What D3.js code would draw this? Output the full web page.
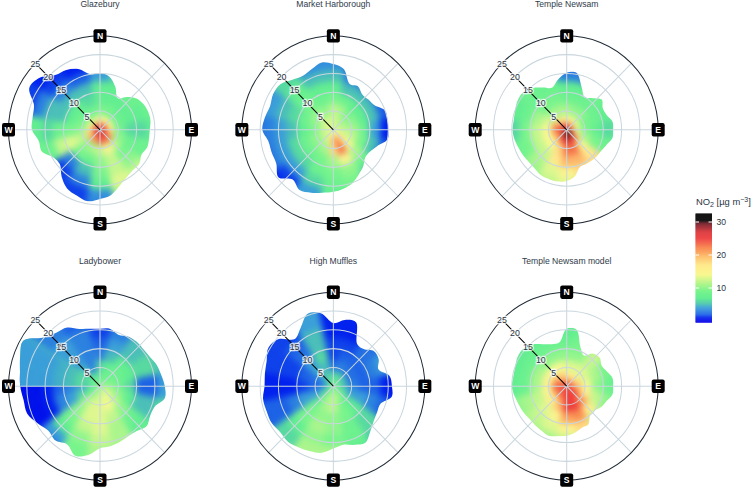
<!DOCTYPE html>
<html><head><meta charset="utf-8">
<script src="https://cdn.jsdelivr.net/npm/d3@7"></script>
<style>html,body{margin:0;background:#fff}svg{display:block;font-family:"Liberation Sans",Arial,sans-serif}</style>
</head><body><svg id="c" width="756" height="489"></svg>
<script>
const panelNames=["Glazebury","Market Harborough","Temple Newsam","Ladybower","High Muffles","Temple Newsam model"];
const speedTicks=[5,10,15,20,25];
const compass=["N","E","S","W"];
const speedBreaks=[0,2,4,7,10,13,16,19,30];
const legendTicks=[10,20,30];
const colorStops=[0,1,2,4,5.5,7,9,11,14,17,19.5,22,25,27,29.5,30.5,33];
const colorValues=["#0000e8","#0020ee","#1c62e6","#3a9fd8","#52cfa8","#62ee90","#78f48c","#aaf58c","#f8f890","#ffe88c","#fdc070","#f98c50","#ee3c3c","#d83034","#701824","#000000","#000000"];
// wind-direction rows N, NNE ... NNW; columns are speed rings
const glazeburyValues=[
[24,14,9,7,7,4,3,3],[24,15,9,7,7,6,5,5],[25,14,8,7,8,8,8,8],[25,14,8,7,7,8,8,8],
[26,16,9,6,6,7,7,7],[27,20,10,8,8,8,8,8],[27,23,12,9,10,12,12,12],[27,24,15,12,12,13,11,8],
[27,24,12,10,9,7,3.5,3],[27,22,11,8,5,3,1.5,1.5],[27,21,10,9,3,1.5,1.5,1.5],[26,19,12,13,12,8,8,8],
[26,17,10,9,8,6,7,7],[26,14,9,7,5,5,3,1.5],[25,13,8,7,5,3,1.5,1],[24,13,8,6,5,2,1,1]];
const harboroughValues=[
[12,13,12,9,7,5,3.5,3],[12,12,11,8,5,3,2,2],[12,11,9,7,5,2.5,1.5,1],[12,11,10,7,5,2,1,1],
[13,12,11,8,4,1,0.5,0.5],[13,13,12,9,5,2,1,1],[15,16,14,11,8,5,4,4],[17,22,23,15,10,9,8,8],
[17,21,18,11,9,8,7,7],[14,15,11,9,8,6,4,4],[13,12,10,8,6,4,1.5,1],[13,12,10,8,6,4,3,1],
[13,12,9,7,5,4,3,2.5],[13,12,10,8,6,5,4,3.5],[14,13,11,9,8,7,6,6],[13,12,10,8,7,5,3.5,3]];
const newsamValues=[
[25,15,11,8,7,3,2,2],[25,14,10,8,7,3,2,2],[24,14,10,8,8,7,7,7],[22,13,9,8,7,7,7,7],
[24,13,9,7,6,7,7,7],[27,17,11,9,8,8,8,8],[30,24,14,17,18,15,12,12],[31,26,23,20,18,15,14,14],
[32,27,23,20,15,13,12,12],[30,25,18,17,13,12,11,11],[27,21,14,12,11,10,9,9],[25,21,14,12,9,8,8,8],
[26,24,14,12,9,6,5,5],[27,22,13,11,8,7,8,8],[26,18,11,9,8,8,9,9],[26,16,11,9,8,7,7,7]];
const ladybowerValues=[
[9,8,6,3,2,1.5,1.5,1.5],[9,8,7,5,4,3,3,3],[9,8,8,7,5,5,5,5],[10,9,8,7,6,6,5,5],
[10,10,8,6,2,2,4,5],[12,12,10,7,5,5,6,6],[13,13,12,10,8,7,7,7],[12,14,14,12,11,11,11,11],
[11,12,13,13,13,12,11,11],[11,12,13,13,12,10,9,9],[10,10,11,10,9,7,4,2],[8,7,6,4,3,1,0.5,0.5],
[8,6,4,3,2,1,0.5,0.5],[8,7,6,5,5,5,5,5],[8,7,5,4,4,4,3,3],[9,6,3,3,3,3,2,2]];
const ladybowerWestUpper=[8,7,6,5,4.5,4,4,4];
const mufflesValues=[
[8,6,2.5,1.5,1.5,1,1,1],[8,6,3,2,1.5,1,1,1],[8,6,2.5,2,2.5,2.5,2.5,2.5],[8,5,2.5,2,3,4,4,4],
[7,5,3,2,2,1,0.5,0.5],[8,6,4,4,3,2,1,1],[9,8,7,7,6,6,5,5],[10,11,9,9,8,8,7,7],
[10,12,12,10,10,9,11,11],[10,11,11,10,11,10,11,11],[9,9,8,9,9,7,6,6],[7,5,4,4,3,2,2,2],
[6,3,2,1.5,1,1,1,1],[7,3,2.5,2,1.5,1.5,1.5,1.5],[7,5,4.5,4,2.5,2,1.5,1.5],[8,6,5,6,5,5,4,4]];
const modelValues=[
[23,17,13,10,8,7,7,7],[23,16,13,10,9,8,8,8],[23,17,13,12,12,12,12,12],[23,18,13,11,9,8,8,8],
[24,20,14,10,8,7,7,7],[25,22,17,12,10,8,8,8],[25,25,22,16,12,10,10,10],[25,25,25,22,18,14,12,12],
[25,25,25,21,15,12,11,11],[25,24,20,15,13,11,11,11],[25,22,16,13,12,11,10,10],[24,23,15,12,11,10,10,10],
[25,24,15,11,8,7,7,7],[25,22,15,11,8,7,7,7],[23,20,14,10,8,7,7,7],[23,19,14,10,8,7,7,7]];
// outer reach of the data (wind speed) every 10 degrees clockwise from N
const glazeburyEdge=[15.1,14.4,12.2,9.7,11.4,13,13.7,14,14,13.6,13.6,13.7,13.1,14,14,14.6,15.8,17.6,18.4,19.3,18.6,18,16.3,14.3,14.7,16.9,17,18.6,18.7,19.2,22.3,21.5,19,18.4,17.2,15];
const harboroughEdge=[17.5,16.4,13,13.4,12.3,12.5,13,15,15,15,15,12.7,11.6,11.4,12.7,13.8,15.1,15.9,16.5,17,17.8,18.5,17.3,19.6,18,17.9,18,19.4,19,18.4,19,18.9,17.4,16.6,17.2,18.2];
const newsamEdge=[15.2,15.4,12,9.9,11,12.5,11.4,11.6,12.7,12.7,12.7,11.6,11,10.8,10.7,10.5,10.5,12.6,13.6,14,14,14,13.5,13.4,13.7,14,14.5,14.8,14.7,15,15.5,15.5,14.5,13,11.9,13.6];
const ladybowerEdge=[15.3,15.5,14.6,15.3,15.5,15.4,15.7,16.5,17,17.7,18,15.9,15.8,16.6,15.6,15.4,15.8,16.2,16.5,18.6,19.7,17.9,18.9,18.4,19.7,21.2,21.2,21.8,22.2,23.2,24.2,20.2,18.6,18,16.2,15.5];
const mufflesEdge=[16.8,17.9,18.1,13,12.9,14.5,14.3,13.1,15.6,16,16.2,13.7,13.8,14.4,15.7,17.4,16.6,15.8,16.6,18,18.4,18.8,19.3,19,19.5,19.4,19.5,18.8,19,19.4,20.5,19.5,16.4,17.9,20.5,19.7];
const modelEdge=[15.3,15.3,11,9.4,11.3,11.8,11,11.6,12.7,12.7,12.7,11.6,11,10.1,10,11.8,11.8,12.6,13.2,13.5,14.1,13.7,13.5,13.4,13.7,14,14.5,15,14.8,15,15.5,15.5,14.5,12.9,11.9,11.8];
const panelValues=[glazeburyValues,harboroughValues,newsamValues,ladybowerValues,mufflesValues,modelValues];
const panelEdges=[glazeburyEdge,harboroughEdge,newsamEdge,ladybowerEdge,mufflesEdge,modelEdge];

const svg=d3.select("#c");
const color=d3.scaleLinear().domain(colorStops).range(colorValues).clamp(true);
const rad=d3.scaleLinear().domain([0,25]).range([0,91.5]);
const xPos=d3.scalePoint().domain([0,1,2]).range([100,566.7]);
const yPos=d3.scalePoint().domain([0,1]).range([129.8,386.2]);
const stretch=1.027;
const dirAngle=d3.scaleLinear().domain([0,16]).range([0,2*Math.PI]);
const edgeAngle=d3.scaleLinear().domain([0,36]).range([0,2*Math.PI]);
const arc=d3.arc();
const edgeLine=d3.lineRadial().angle((d,i)=>edgeAngle(i)).radius(d=>rad(d)).curve(d3.curveCatmullRomClosed.alpha(0.5));

const defs=svg.append("defs");
const f=defs.append("filter").attr("id","soft").attr("filterUnits","userSpaceOnUse")
  .attr("x",-130).attr("y",-130).attr("width",260).attr("height",260)
  .attr("color-interpolation-filters","sRGB");
f.append("feGaussianBlur").attr("stdDeviation",3);
defs.append("clipPath").attr("id","upperWest").append("rect").attr("x",-130).attr("y",-130).attr("width",130).attr("height",130);

function cell(layer,i,j,v){
  layer.append("path").attr("d",arc({innerRadius:rad(speedBreaks[j]),outerRadius:rad(speedBreaks[j+1]),
    startAngle:dirAngle(i-0.5),endAngle:dirAngle(i+0.5)}))
    .attr("fill",color(v)).attr("stroke",color(v)).attr("stroke-width",0.6);
}

panelNames.forEach((name,p)=>{
  const cx=xPos(p%3), cy=yPos(Math.floor(p/3));
  svg.append("text").attr("x",cx).attr("y",cy-122.5).attr("text-anchor","middle")
    .attr("font-size",8.6).attr("fill","#2f3b4a").text(name);
  const g=svg.append("g").attr("transform",`translate(${cx},${cy}) scale(1,${stretch})`);
  defs.append("clipPath").attr("id","clip"+p).append("path").attr("d",edgeLine(panelEdges[p]));
  const clipped=g.append("g").attr("clip-path",`url(#clip${p})`);
  const field=clipped.append("g").attr("filter","url(#soft)");
  panelValues[p].forEach((row,i)=>row.forEach((v,j)=>cell(field,i,j,v)));
  if(p===3){
    const over=clipped.append("g").attr("clip-path","url(#upperWest)").append("g").attr("filter","url(#soft)");
    [11,12,13].forEach(i=>ladybowerWestUpper.forEach((v,j)=>{ if(j>=2) cell(over,i,j,v); }));
  }
  d3.range(7).forEach(k=>{
    const a=k*Math.PI/4;
    g.append("line").attr("x1",0).attr("y1",0).attr("x2",rad(25)*Math.sin(a)).attr("y2",-rad(25)*Math.cos(a))
      .attr("stroke","#c9d6de").attr("stroke-width",1);
  });
  speedTicks.slice(0,4).forEach(s=>{
    g.append("circle").attr("r",rad(s)).attr("fill","none").attr("stroke","#c9d6de").attr("stroke-width",1);
  });
  g.append("circle").attr("r",rad(25)).attr("fill","none").attr("stroke","#1f2a36").attr("stroke-width",1);
  const q=Math.SQRT1_2;
  g.append("line").attr("x1",0).attr("y1",0).attr("x2",-rad(24.2)*q).attr("y2",-rad(24.2)*q)
    .attr("stroke","#000").attr("stroke-width",1);
  speedTicks.forEach(s=>{
    g.append("text").attr("x",-rad(s)*q).attr("y",-rad(s)*q).attr("dy","0.35em").attr("text-anchor","middle")
      .attr("font-size",8.8).attr("fill","#2b3644").attr("stroke","#fff").attr("stroke-width",2.2)
      .attr("stroke-opacity",0.8).attr("paint-order","stroke").text(s);
  });
  compass.forEach((c,k)=>{
    const a=k*Math.PI/2, x=rad(25)*Math.sin(a), y=-rad(25)*Math.cos(a);
    g.append("rect").attr("x",x-6.5).attr("y",y-6.5).attr("width",13).attr("height",13).attr("rx",2).attr("fill","#000");
    g.append("text").attr("x",x).attr("y",y).attr("dy","0.36em").attr("text-anchor","middle")
      .attr("font-size",8.6).attr("font-weight","bold").attr("fill","#fff").text(c);
  });
});

const legY=d3.scaleLinear().domain([0,30]).range([321,222]);
const leg=svg.append("g");
const t=leg.append("text").attr("x",696).attr("y",205).attr("font-size",9.4).attr("fill","#2b3644");
t.append("tspan").text("NO");
t.append("tspan").attr("dy",2).attr("font-size",7).text("2");
t.append("tspan").attr("dy",-2).text(" [µg m");
t.append("tspan").attr("dy",-3).attr("font-size",7).text("−3");
t.append("tspan").attr("dy",3).text("]");
const steps=d3.range(-0.4,32.4,0.3);
leg.selectAll("rect").data(steps).join("rect").attr("x",695.5).attr("width",16.5)
  .attr("y",d=>legY(d+0.3)).attr("height",d=>legY(d)-legY(d+0.3)+0.4).attr("fill",d=>color(d));
legendTicks.forEach(v=>{
  leg.append("line").attr("x1",695.5).attr("x2",699).attr("y1",legY(v)).attr("y2",legY(v)).attr("stroke","#fff");
  leg.append("line").attr("x1",708.5).attr("x2",712).attr("y1",legY(v)).attr("y2",legY(v)).attr("stroke","#fff");
  leg.append("text").attr("x",716.5).attr("y",legY(v)).attr("dy","0.35em").attr("font-size",8.6).attr("fill","#2b3644").text(v);
});
</script></body></html>
